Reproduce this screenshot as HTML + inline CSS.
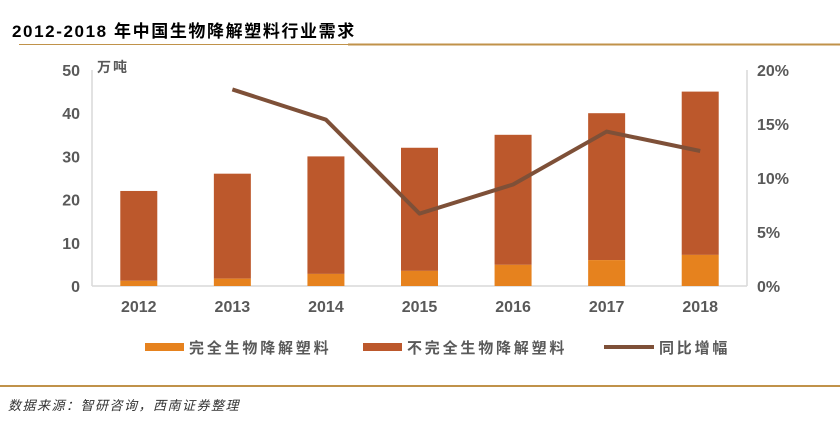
<!DOCTYPE html>
<html><head><meta charset="utf-8"><style>
body{margin:0;background:#fff;width:840px;height:421px;overflow:hidden;font-family:"Liberation Sans","Noto Sans CJK SC",sans-serif;}
svg{display:block}
</style></head><body>
<svg width="840" height="421">
<text x="12" y="37" font-size="17" font-weight="bold" fill="#000" letter-spacing="1.6">2012-2018 年中国生物降解塑料行业需求</text>
<line x1="19" y1="44.5" x2="348" y2="44.5" stroke="#c0924a" stroke-width="1"/>
<line x1="348" y1="44.5" x2="840" y2="44.5" stroke="#c0924a" stroke-width="2"/>
<text x="97" y="72" font-size="14" font-weight="bold" fill="#595959" letter-spacing="2">万吨</text>
<g id="plot"></g>
<g>
<rect x="145" y="343" width="39" height="8" fill="#e6821e"/>
<text x="189" y="353" font-size="15" font-weight="bold" fill="#595959" letter-spacing="2.8">完全生物降解塑料</text>
<rect x="363" y="343" width="39" height="8" fill="#bc582c"/>
<text x="407" y="353" font-size="15" font-weight="bold" fill="#595959" letter-spacing="2.8">不完全生物降解塑料</text>
<line x1="604" y1="347" x2="654" y2="347" stroke="#7e5038" stroke-width="4"/>
<text x="659" y="353" font-size="15" font-weight="bold" fill="#595959" letter-spacing="2.8">同比增幅</text>
</g>
<line x1="0" y1="386" x2="840" y2="386" stroke="#c0924a" stroke-width="2"/>
<text x="8" y="410" font-size="13" font-style="italic" fill="#333" letter-spacing="1.5">数据来源：智研咨询，西南证券整理</text>
</svg>
<script>
const categories=['2012','2013','2014','2015','2016','2017','2018'];
const totalDemand=[22,26,30,32,35,40,45];
const completeDemand=[1.2,1.7,2.8,3.5,4.9,6.0,7.2];
const growthRate=[null,18.2,15.4,6.7,9.4,14.3,12.5];
const leftTicks=[0,10,20,30,40,50];
const rightTicks=[0,5,10,15,20];
const NS='http://www.w3.org/2000/svg';
const g=document.getElementById('plot');
const x0=92,x1=747,y0=286,y1=70;
const band=(x1-x0)/categories.length;
const xc=i=>x0+band*(i+0.5);
const yL=v=>y0-(v/50)*(y0-y1);
const yR=v=>y0-(v/20)*(y0-y1);
function mk(t,a){const e=document.createElementNS(NS,t);for(const k in a)e.setAttribute(k,a[k]);g.appendChild(e);return e;}
let e;
e=mk('line',{x1:x0,y1:y1,x2:x0,y2:y0,stroke:'#d9d9d9','stroke-width':1.5});


e=mk('line',{x1:x1,y1:y1,x2:x1,y2:y0,stroke:'#d9d9d9','stroke-width':1.5});


e=mk('line',{x1:x0,y1:y0,x2:x1,y2:y0,stroke:'#d9d9d9','stroke-width':1.5});


leftTicks.forEach(v=>{e=mk('text',{x:80,y:yL(v)+6,'font-size':16,'font-weight':'bold',fill:'#595959','text-anchor':'end'});e.textContent=v;

});
rightTicks.forEach(v=>{e=mk('text',{x:757,y:yR(v)+6,'font-size':16,'font-weight':'bold',fill:'#595959'});e.textContent=v+'%';

});
const bw=37;
categories.forEach((c,i)=>{
 e=mk('rect',{x:xc(i)-bw/2,y:yL(totalDemand[i]),width:bw,height:yL(completeDemand[i])-yL(totalDemand[i]),fill:'#bc582c'});
 
 
 e=mk('rect',{x:xc(i)-bw/2,y:yL(completeDemand[i]),width:bw,height:y0-yL(completeDemand[i]),fill:'#e6821e'});
 
 
 e=mk('text',{x:xc(i),y:y0+26,'font-size':16,'font-weight':'bold',fill:'#595959','text-anchor':'middle'});e.textContent=c;
 
 
});
const pts=growthRate.map((v,i)=>v==null?null:[xc(i),yR(v)]).filter(p=>p);
e=mk('polyline',{points:pts.map(p=>p.join(',')).join(' '),fill:'none',stroke:'#7e5038','stroke-width':4,'stroke-linejoin':'round'});


</script>
</body></html>
